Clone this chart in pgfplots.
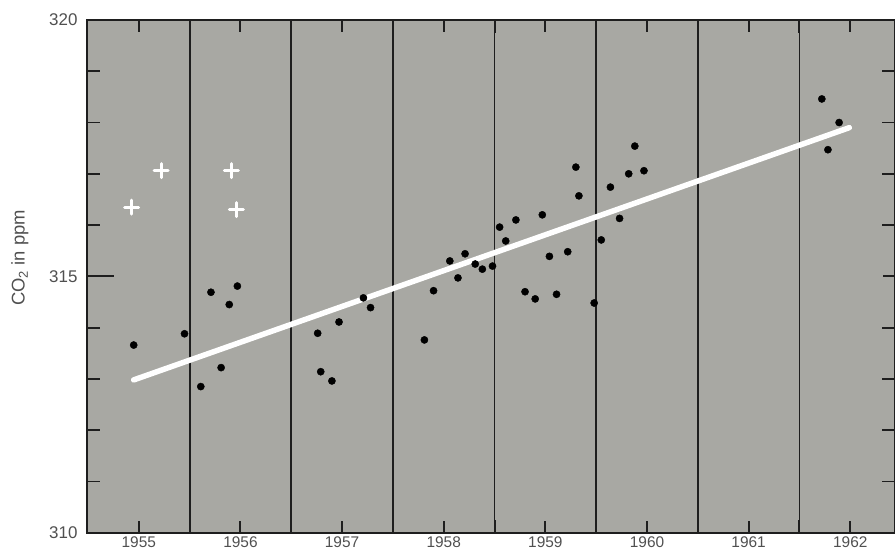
\documentclass[border=0pt]{standalone}
\usepackage{fontspec}
\setmainfont{Liberation Sans}
\usepackage{pgfplots}
\pgfplotsset{compat=1.18}
\definecolor{bg}{RGB}{168,168,163}
\definecolor{txt}{RGB}{80,80,80}
\definecolor{ln}{RGB}{30,30,30}
\begin{document}
\begin{tikzpicture}
\begin{axis}[
  scale only axis, width=808bp, height=513bp,
  xmin=1954.49, xmax=1962.435, ymin=310, ymax=320,
  axis background/.style={fill=bg},
  axis line style={line width=1.8bp, draw=ln},
  xtick={1955,1956,1957,1958,1959,1960,1961,1962},
  minor xtick={1955.5,1956.5,1957.5,1958.5,1959.5,1960.5,1961.5},
  xminorgrids=true,
  minor grid style={line width=1.8bp, draw=ln},
  ytick={310,315,320}, minor ytick={311,312,313,314,316,317,318,319},
  tick align=inside, tick pos=both, xticklabel pos=lower, yticklabel pos=left,
  major tick length=12bp, minor tick length=13bp,
  every tick/.style={line width=1.8bp, draw=ln},
  xtick style={draw=ln, line width=2bp},
  /pgf/number format/assume math mode=true,
  /pgf/number format/1000 sep={},
  xticklabel style={font=\fontsize{15.5}{15.5}\selectfont, text=txt, yshift=-1bp},
  yticklabel style={font=\fontsize{17}{17}\selectfont, text=txt, xshift=-6bp},
  ylabel={CO\textsubscript{2} in ppm},
  ylabel style={at={(axis description cs:-0.083,0.536)}, anchor=center, font=\fontsize{18.5}{18.5}\selectfont, text=txt},
]
% longer tick at 315 on the left axis
\draw[line width=1.8bp, draw=ln] (rel axis cs:0,0.5) -- (rel axis cs:0.0334,0.5);
% fitted trend line
\addplot[white, line width=5.5bp, line cap=round] coordinates {(1954.95,312.98) (1961.99,317.90)};
% white crosses
\addplot[only marks, mark=+, mark size=7bp, draw=white, mark options={line width=3bp, line cap=round}] coordinates {
(1954.93,316.35) (1955.22,317.06) (1955.91,317.06) (1955.96,316.30)
};
% black dots
\addplot[only marks, mark=*, mark size=3.6bp, draw=black, fill=black] coordinates {
(1954.95,313.66) (1955.45,313.88) (1955.71,314.69) (1955.97,314.81) (1955.89,314.45)
(1955.81,313.22) (1955.61,312.85)
(1957.21,314.58) (1957.28,314.39) (1956.97,314.11) (1956.76,313.89) (1956.79,313.14) (1956.90,312.96)
(1957.81,313.76) (1957.90,314.72)
(1958.06,315.30) (1958.21,315.44) (1958.14,314.97) (1958.31,315.24) (1958.38,315.14) (1958.48,315.20)
(1958.55,315.96) (1958.61,315.69) (1958.71,316.10) (1958.97,316.20) (1959.04,315.39) (1959.22,315.48)
(1958.80,314.70) (1958.90,314.56) (1959.11,314.65) (1959.48,314.48)
(1959.30,317.13) (1959.33,316.57) (1959.88,317.54) (1959.82,317.00) (1959.97,317.06) (1959.64,316.74)
(1959.73,316.13) (1959.55,315.71)
(1961.72,318.46) (1961.89,318.00) (1961.78,317.47)
};
\end{axis}
\pgfresetboundingbox
\path (current axis.south west) ++(-87bp,-24bp) rectangle ([xshift=0.5bp,yshift=20bp]current axis.north east);
\end{tikzpicture}
\end{document}
